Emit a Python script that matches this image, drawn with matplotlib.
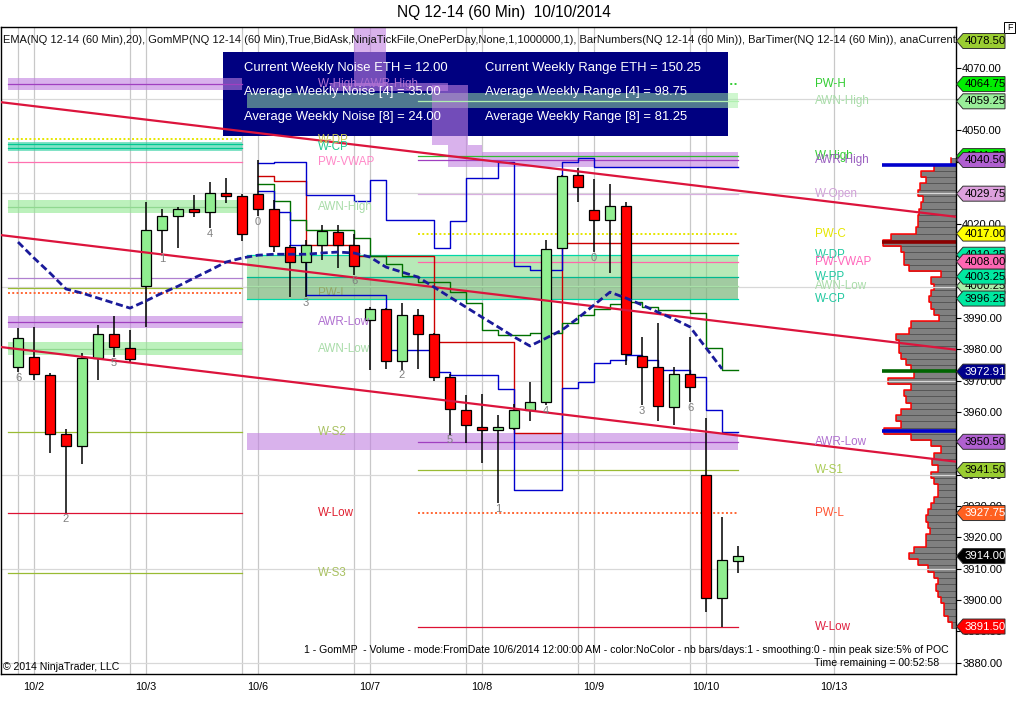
import matplotlib
matplotlib.use("Agg")
import matplotlib.pyplot as plt
from matplotlib.patches import Rectangle, Polygon
import numpy as np

plt.rcParams['font.family'] = ['Liberation Sans', 'DejaVu Sans']

# ---------------------------------------------------------------- data
title_text = "NQ 12-14 (60 Min)  10/10/2014"
indicator_text = ("EMA(NQ 12-14 (60 Min),20), GomMP(NQ 12-14 (60 Min),True,BidAsk,NinjaTickFile,"
                  "OnePerDay,None,1,1000000,1), BarNumbers(NQ 12-14 (60 Min)), "
                  "BarTimer(NQ 12-14 (60 Min)), anaCurrentWeekLevels")

opens = [3974.5, 3977.5, 3971.75, 3953.0, 3949.25, 3977.25, 3985.0, 3980.5, 4000.25, 4018.0,
         4022.75, 4024.75, 4023.75, 4030.0, 4029.0, 4029.5, 4025.0, 4012.75, 4008.0, 4013.5,
         4017.5, 4013.5, 3989.5, 3993.0, 3976.25, 3991.0, 3985.0, 3971.25, 3960.5, 3955.25,
         3954.5, 3955.0, 3960.75, 3963.25, 4012.5, 4035.75, 4024.5, 4021.25, 4025.75, 3977.75,
         3974.5, 3961.5, 3972.25, 3940.0, 3900.5, 3912.5]
highs = [3986.75, 3987.25, 3972.5, 3954.5, 3979.0, 3987.75, 3990.75, 3986.25, 4027.0, 4025.0,
         4025.5, 4029.25, 4033.5, 4034.75, 4029.5, 4040.5, 4027.75, 4013.25, 4015.0, 4019.75,
         4019.75, 4017.0, 3993.5, 3993.25, 3994.75, 3993.0, 3985.25, 3972.25, 3965.5, 3965.75,
         3959.0, 3962.5, 3969.5, 4015.0, 4035.75, 4038.0, 4034.5, 4032.75, 4027.0, 3984.0,
         3988.5, 3974.5, 3984.0, 3958.0, 3926.5, 3917.25]
lows = [3972.75, 3970.25, 3947.0, 3927.75, 3943.5, 3970.25, 3977.5, 3975.75, 3987.25, 4010.75,
        4012.5, 4022.25, 4018.75, 4026.75, 4014.5, 4022.5, 4011.0, 3996.75, 3996.75, 4008.5,
        4006.0, 4003.75, 3973.5, 3973.75, 3973.5, 3973.75, 3970.0, 3952.75, 3950.25, 3943.75,
        3931.0, 3954.25, 3957.25, 3962.25, 4012.0, 4027.0, 4011.0, 4004.5, 3975.0, 3962.25,
        3957.0, 3956.0, 3963.25, 3896.25, 3891.5, 3908.75]
closes = [3983.75, 3972.25, 3953.0, 3949.25, 3977.25, 3985.0, 3980.75, 3977.0, 4018.0, 4022.5,
          4024.75, 4023.75, 4030.0, 4029.0, 4017.0, 4025.0, 4013.0, 4008.0, 4013.5, 4017.75,
          4013.5, 4006.5, 3993.0, 3976.25, 3991.0, 3985.0, 3971.25, 3961.0, 3956.0, 3954.5,
          3955.25, 3960.75, 3963.25, 4012.0, 4035.25, 4031.75, 4021.25, 4025.75, 3978.5, 3974.5,
          3962.0, 3972.25, 3968.0, 3900.5, 3912.75, 3914.0]
ema20 = [4014.3, 4009.2, 4004.4, 3999.3, 3998.0, 3996.4, 3994.8, 3993.2, 3995.5, 3998.0,
         4000.2, 4002.8, 4005.3, 4007.9, 4009.2, 4010.1, 4010.4, 4010.4, 4010.4, 4010.8,
         4011.1, 4010.8, 4009.5, 4006.3, 4004.7, 4003.1, 3999.9, 3996.7, 3993.5, 3990.3,
         3987.2, 3984.0, 3981.1, 3983.6, 3986.2, 3990.0, 3994.2, 3998.3, 3996.4, 3994.2,
         3991.9, 3989.7, 3987.2, 3980.5, 3973.8]

bar_number_idx = [0, 3, 6, 9, 12, 15, 18, 21, 24, 27, 30, 33, 36, 39, 42]
bar_number_txt = ['6', '2', '5', '1', '4', '0', '3', '6', '2', '5', '1', '4', '0', '3', '6']

date_labels = ['10/2', '10/3', '10/6', '10/7', '10/8', '10/9', '10/10', '10/13']
date_bars = [1, 8, 15, 22, 29, 36, 43, 51]
session_grid_bars = [0, 1, 7, 8, 14, 15, 21, 22, 28, 29, 35, 36, 42, 43, 51]
price_grid = [3880, 3910, 3940, 3970, 4000, 4030, 4060]
price_ticks = list(range(3880, 4071, 10))

# GomMP developing lines, one value per bar from bar 15 to bar 44
gom_first_bar = 15
gom_vah = [4039.5, 4040.0, 4040.0, 4029.25, 4029.25, 4029.25, 4027.25, 4034.25, 4021.25, 4021.25,
           4021.25, 4012.5, 4021.0, 4034.75, 4034.75, 4039.75, 4006.5, 4005.25, 4005.25, 4039.75,
           4041.25, 4038.25, 4038.25, 4038.25, 4038.25, 4038.25, 4038.25, 4038.25, 4038.25, 4038.25]
gom_val = [4030.75, 4024.0, 4013.25, 3997.5, 3997.5, 3997.5, 3997.5, 3997.5, 3979.75, 3979.75,
           3979.75, 3972.75, 3971.75, 3971.75, 3971.75, 3967.5, 3935.25, 3935.25, 3935.25, 3967.75,
           3969.5, 3975.75, 3976.5, 3978.25, 3976.5, 3973.5, 3973.5, 3971.25, 3960.75, 3953.75]
gom_poc = [4032.75, 4027.25, 4021.25, 4018.0, 4018.0, 4018.0, 4015.75, 4009.75, 4007.25, 4003.5,
           4001.5, 4001.5, 3998.5, 3994.75, 3986.25, 3984.5, 3984.5, 3985.25, 3985.25, 3988.5,
           3991.0, 3993.0, 3994.5, 3995.0, 3993.5, 3992.5, 3992.5, 3991.5, 3980.5, 3973.5]
gom_red = [4035.25, 4033.75, 4033.75, 4013.25, 4013.25, 4013.25, 4010.0, 4010.0, 4010.0, 4010.0,
           4010.0, 3982.5, 3982.5, 3982.5, 3982.5, 3982.5, 3953.25, 3953.25, 3953.25, 4014.0,
           4014.0, 4014.0, 4014.0, 4014.0, 4014.0, 4014.0, 4014.0, 4014.0, 4014.0, 4014.0]

# trend lines: two anchor points (bar, price) each
trend_lines = [((-1.125, 4059.0), (58.5625, 4022.4)),
               ((-1.125, 4016.55), (58.5625, 3979.95)),
               ((-1.125, 3980.8), (58.5625, 3944.2))]

# previous-week levels (left block)
left_line_prices = [4064.75, 4047.25, 4045.5, 4044.25, 4039.75, 4025.5, 4002.75, 3999.75,
                    3998.0, 3988.75, 3980.25, 3953.75, 3927.75, 3908.75]
left_line_colors = ['#a040c0', '#e6e600', '#00c890', '#00c890', '#ff70b0', '#90d890', '#b080d0',
                    '#99bb33', '#ff6633', '#a040c0', '#90d890', '#99bb33', '#dd1133', '#99bb33']
left_line_dotted = [False, True, False, False, False, False, False, False,
                    True, False, False, False, False, False]
left_band_tops = [4066.75, 4046.25, 4027.75, 3990.75, 3982.25]
left_band_bottoms = [4062.75, 4043.5, 4023.5, 3986.75, 3978.25]
left_band_colors = ['#c080e0', '#30d0a0', '#90e890', '#c080e0', '#90e890']
left_label_names = ['W-High /AWR-High', 'W-DP', 'W-CP', 'PW-VWAP', 'AWN-High', 'PW-L',
                    'AWR-Low', 'AWN-Low', 'W-S2', 'W-Low', 'W-S3']
left_label_prices = [4064.75, 4047.0, 4044.5, 4039.75, 4025.5, 3998.0, 3988.75, 3980.25,
                     3953.75, 3927.75, 3908.75]
left_label_colors = ['#b070d0', '#c8c850', '#20c890', '#ff88c8', '#a8dca8', '#d08840',
                     '#b070d0', '#a8dca8', '#a8c060', '#e02030', '#a8c060']

# current-week levels (right block)
right_line_prices = [4064.75, 4059.25, 4041.75, 4040.5, 4029.75, 4017.0, 4010.25, 4008.0,
                     4003.25, 4000.25, 3996.25, 3950.5, 3941.5, 3927.75, 3891.5]
right_line_colors = ['#33cc33', '#b0f0b0', '#33bb33', '#a040c0', '#d8b0e0', '#e6e600', '#00d8a8',
                     '#ff66aa', '#00b890', '#a8e0a8', '#00d8a8', '#a040c0', '#99bb33', '#ff6633',
                     '#dd1133']
right_line_dotted = [True, False, False, False, False, True, False, False,
                     False, False, False, False, False, True, False]
right_line_long = [False, False, False, False, False, False, True, False,
                   True, True, True, False, False, False, False]
right_label_names = ['PW-H', 'AWN-High', 'W-High', 'AWR-High', 'W-Open', 'PW-C', 'W-DP',
                     'PW-VWAP', 'W-PP', 'AWN-Low', 'W-CP', 'AWR-Low', 'W-S1', 'PW-L', 'W-Low']
right_label_colors = ['#33cc33', '#a8dca8', '#33cc33', '#9a60c0', '#d0a0d8', '#e6e600', '#20c8a0',
                      '#ff66bb', '#20c8a0', '#a8dca8', '#20c8a0', '#b070d0', '#aacc55', '#ff5533',
                      '#e02040']
right_band_tops = [4061.75, 4010.25, 4003.25, 3953.25]
right_band_bottoms = [4057.0, 3996.25, 3996.25, 3947.75]
right_band_colors = ['#a0f0a0', '#7cd87c', '#708870', '#c080e0']
right_band_alphas = [0.5, 0.55, 0.3, 0.6]
# developing AWR-High band steps: (bar from, bar to, top price, bottom price)
awr_high_steps = [(21.0, 23.0, 4084.0, 4064.0),
                  (19.5, 26.9, 4065.25, 4062.5),
                  (25.9, 28.1, 4064.5, 4045.25),
                  (26.9, 29.0, 4045.25, 4038.25),
                  (29.0, 45.0, 4043.0, 4038.25)]

# volume profile (price level, volume)
profile_prices = list(range(4040, 3890, -2))
profile_volume = [5, 22, 35, 30, 36, 38, 33, 35, 37, 38,
                  38, 40, 65, 73, 55, 52, 52, 47, 15, 25,
                  22, 25, 27, 25, 22, 17, 45, 47, 60, 57,
                  57, 55, 50, 45, 42, 68, 45, 52, 50, 45,
                  55, 60, 55, 72, 45, 25, 15, 22, 24, 18,
                  25, 22, 18, 18, 22, 25, 28, 30, 28, 26,
                  30, 30, 42, 47, 38, 28, 22, 18, 20, 18,
                  15, 12, 12, 8, 4]
profile_marks = [4038.9, 4014.3, 3973.1, 3954.0]
profile_mark_colors = ['#0000cc', '#8b0000', '#006400', '#0000cc']

# right-axis price tags: price, fill, text colour (drawing order)
tag_prices = [4078.50, 4064.75, 4059.25, 4041.75, 4040.50, 4029.75, 4017.00, 4010.25, 4008.00,
              4000.25, 4003.25, 3996.25, 3972.91, 3950.50, 3941.50, 3927.75, 3914.00, 3891.50]
tag_fills = ['#9acd32', '#00ee00', '#99ee99', '#00ee00', '#b060d0', '#dda0dd', '#ffff00', '#00e8a0',
             '#ff66b3', '#aaeeaa', '#00e8a0', '#00e8a0', '#00008b', '#b060d0', '#9acd32', '#ff6020',
             '#000000', '#ff0000']
tag_text_colors = ['black'] * 12 + ['white', 'black', 'black', 'white', 'white', 'white']

info_rows_left = ['Current Weekly Noise ETH = 12.00', 'Average Weekly Noise [4] = 35.00',
                  'Average Weekly Noise [8] = 24.00']
info_rows_right = ['Current Weekly Range ETH = 150.25', 'Average Weekly Range [4] = 98.75',
                   'Average Weekly Range [8] = 81.25']
footer_text = ("1 - GomMP  - Volume - mode:FromDate 10/6/2014 12:00:00 AM - color:NoColor - "
               "nb bars/days:1 - smoothing:0 - min peak size:5% of POC")
timer_text = "Time remaining = 00:52:58"
copyright_text = "\u00a9 2014 NinjaTrader, LLC"

# ---------------------------------------------------------------- layout
FW, FH = 1016, 720
fig = plt.figure(figsize=(FW / 100, FH / 100), dpi=100)
fig.patch.set_facecolor('white')
AX_L, AX_R, AX_T, AX_B = 1, 956, 27, 674
ax = fig.add_axes([AX_L / FW, 1 - AX_B / FH, (AX_R - AX_L) / FW, (AX_B - AX_T) / FH])
ax2 = ax.twiny()
ax.set_zorder(2)
ax2.set_zorder(1)
ax.patch.set_visible(False)
ax2.patch.set_visible(True)
ax2.patch.set_facecolor('white')

XL = (-1.0625, 58.625)
YL = (3876.34, 4082.98)
ax.set_xlim(*XL)
ax.set_ylim(*YL)
ax2.set_xlim(AX_R - AX_L, 0)
ax2.set_xticks([])
for s in ax2.spines.values():
    s.set_visible(False)

def fxa(px):
    return (px - AX_L) / (AX_R - AX_L)

def fya(py):
    return (AX_B - py) / (AX_B - AX_T)

px_per_price = (AX_B - AX_T) / (YL[1] - YL[0])

# grid
for b in session_grid_bars:
    ax.axvline(b, color='#c8c8c8', lw=0.9, zorder=0.5)
for p in price_grid:
    ax.axhline(p, color='#d8d8d8', lw=0.9, zorder=0.5)

# info box
ax.add_patch(Rectangle((fxa(223), fya(136)), fxa(728) - fxa(223), fya(52) - fya(136),
                       transform=ax.transAxes, fc='#000080', ec='none', zorder=1))

# left-week levels
L0, L1 = -0.625, 14.0
for t, b, c in zip(left_band_tops, left_band_bottoms, left_band_colors):
    ax.add_patch(Rectangle((L0, b), L1 - L0, t - b, fc=c, ec='none', alpha=0.6, zorder=2))
for p, c, d in zip(left_line_prices, left_line_colors, left_line_dotted):
    ax.plot([L0, L1], [p, p], color=c, lw=1.4 if d else 0.9,
            ls=(0, (1, 1.2)) if d else '-', zorder=3)

# right-week levels
R0, R1, RL = 14.3, 45.0, 25.0
for t, b, c, a in zip(right_band_tops, right_band_bottoms, right_band_colors, right_band_alphas):
    ax.add_patch(Rectangle((R0, b), (R1 - R0), t - b, fc=c, ec='none', alpha=a, zorder=2))
for x0, x1, t, b in awr_high_steps:
    ax.add_patch(Rectangle((x0, b), x1 - x0, t - b, fc='#c080e0', ec='none', alpha=0.6, zorder=2))
for n, p, c, d, lg in zip(right_label_names, right_line_prices, right_line_colors,
                          right_line_dotted, right_line_long):
    ax.plot([R0 if lg else RL, R1], [p, p], color=c, lw=1.4 if d else 0.9,
            ls=(0, (1, 1.2)) if d else '-', zorder=0.8 if n == 'PW-H' else 3)

# GomMP developing lines
gx = np.arange(gom_first_bar, gom_first_bar + len(gom_vah) + 1)
for vals, col in [(gom_red, '#cc0000'), (gom_poc, '#007000'), (gom_vah, '#0000cc'), (gom_val, '#0000cc')]:
    ax.plot(gx, list(vals) + [vals[-1]], drawstyle='steps-post', color=col, lw=1.0, zorder=3.5)

# candles
o = np.array(opens); h = np.array(highs); l = np.array(lows); c = np.array(closes)
bars = np.arange(len(o))
up = c >= o
diff = np.abs(c - o)
min_h = 0.9
body_h = np.maximum(diff, min_h)
body_b = np.where(diff < min_h, (o + c) / 2 - min_h / 2, np.minimum(o, c))
ax.vlines(bars, l, h, color='black', lw=1.1, zorder=5)
ax.bar(bars, body_h, bottom=body_b, width=0.64, color=np.where(up, '#90ee90', '#ff0000'),
       edgecolor='black', linewidth=0.9, zorder=6)

# trend lines
for p1, p2 in trend_lines:
    ax.axline(p1, p2, color='#dc143c', lw=1.6, zorder=6.5)

# EMA
ax.plot(bars[:len(ema20)], ema20, color='#1a1a9a', lw=2.0, ls=(0, (2.6, 1.3)), zorder=7)

# bar numbers
for i, t in zip(bar_number_idx, bar_number_txt):
    ax.annotate(t, (i, lows[i]), xytext=(0, -0.5), textcoords='offset points', ha='center',
                va='top', color='#808080', fontsize=8, zorder=8)

# level labels
for n, p, col in zip(left_label_names, left_label_prices, left_label_colors):
    ax.text(18.75, p, n, color=col, fontsize=8.4, va='center', ha='left',
            zorder=1.5 if n == 'PW-L' else 8)
for n, p, col in zip(right_label_names, right_line_prices, right_label_colors):
    ax.text(49.8, p, n, color=col, fontsize=8.4, va='center', ha='left', zorder=8)

# volume profile on the twin axes
pv = np.array(profile_volume); pp = np.array(profile_prices, dtype=float)
ax2.barh(pp, pv, height=2.0, color='#808080', edgecolor='#4a4a4a', linewidth=0.5)
ox, oy = [], []
for p, v in zip(pp, pv):
    ox += [v, v]; oy += [p + 1, p - 1]
ax2.plot(ox, oy, color='#ff0000', lw=1.1)
for p, col in zip(profile_marks, profile_mark_colors):
    ax2.plot([0, 74], [p, p], color=col, lw=2.6, solid_capstyle='butt')

# axes styling
for s in ax.spines.values():
    s.set_color('black'); s.set_linewidth(1.0)
ax.yaxis.tick_right()
ax.set_yticks(price_ticks)
ax.set_yticklabels([f'{v:.2f}' for v in price_ticks])
ax.tick_params(axis='y', direction='out', length=3.5, width=0.8, pad=1, labelsize=8)
ax.set_xticks(date_bars)
ax.set_xticklabels(date_labels)
ax.tick_params(axis='x', direction='out', length=0, pad=6, labelsize=7.8)
ax2.tick_params(axis='y', length=0)

# indicator header line
ax.text(fxa(3), fya(40), indicator_text, transform=ax.transAxes, fontsize=8, va='center',
        ha='left', color='#111111', clip_on=True, zorder=9)

# right price tags
ytr = ax.get_yaxis_transform()
hh = 7.5 / px_per_price
for i, (p, fc, tc) in enumerate(zip(tag_prices, tag_fills, tag_text_colors)):
    verts = [(fxa(956.5), p), (fxa(963), p + hh), (fxa(1005), p + hh), (fxa(1005), p - hh),
             (fxa(963), p - hh)]
    ax.add_patch(Polygon(verts, closed=True, transform=ytr, clip_on=False, fc=fc, ec='#303030',
                         lw=0.7, zorder=20 + i))
    ax.text(fxa(965), p, f'{p:.2f}', transform=ytr, clip_on=False, color=tc, fontsize=8.2,
            va='center', ha='left', zorder=20.5 + i)

# info box texts
rows_y = [68, 92.5, 116.7]
for y, tl, tr in zip(rows_y, info_rows_left, info_rows_right):
    fig.text(244 / FW, 1 - y / FH, tl, color='white', fontsize=9.4, va='center', ha='left')
    fig.text(485 / FW, 1 - y / FH, tr, color='white', fontsize=9.4, va='center', ha='left')

# title and footers
fig.text(504 / FW, 1 - 13 / FH, title_text, ha='center', va='center', fontsize=11.2)
fig.text(949 / FW, 1 - 650 / FH, footer_text, ha='right', va='center', fontsize=7.6)
fig.text(939 / FW, 1 - 663 / FH, timer_text, ha='right', va='center', fontsize=7.6)
fig.text(3 / FW, 1 - 667 / FH, copyright_text, ha='left', va='center', fontsize=7.6)

# small controls at top right
fig.add_artist(Rectangle((1004 / FW, 1 - 33 / FH), 11 / FW, 11 / FH, transform=fig.transFigure,
                         fc='white', ec='black', lw=0.7))
fig.text(1009.5 / FW, 1 - 27.5 / FH, 'F', ha='center', va='center', fontsize=6.5)
fig.add_artist(Polygon([(925 / FW, 1 - 44 / FH), (925 / FW, 1 - 58 / FH), (940 / FW, 1 - 51 / FH)],
                       closed=True, transform=fig.transFigure, fc='white', ec='black', lw=0.7))
fig.add_artist(Rectangle((942 / FW, 1 - 58 / FH), 3 / FW, 15 / FH, transform=fig.transFigure,
                         fc='white', ec='black', lw=0.7))

fig.savefig('out.png', dpi=100)
